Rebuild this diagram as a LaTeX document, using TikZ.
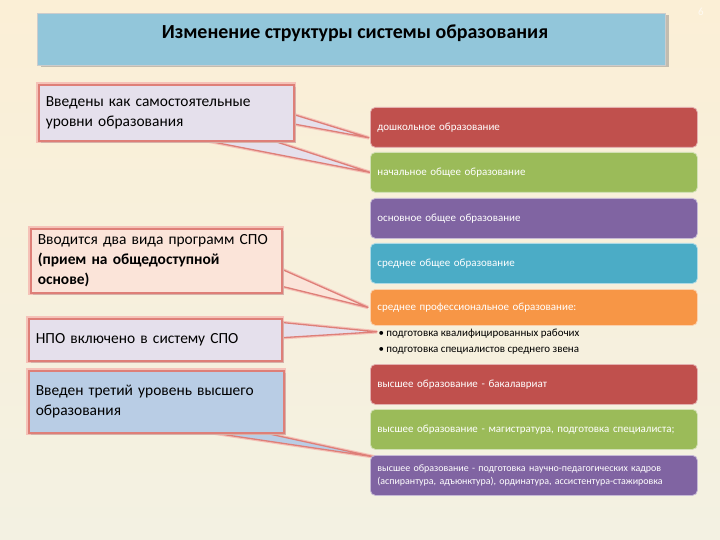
\documentclass[tikz,border=0pt]{standalone}
\usepackage{fontspec}
\setmainfont{Carlito}
\usetikzlibrary{calc,positioning,shadows}

\definecolor{pagetop}{HTML}{FBEFD6}
\definecolor{pagebottom}{HTML}{F3F1E2}
\definecolor{titleblue}{HTML}{92C6DA}
\definecolor{lvred}{HTML}{C0504D}
\definecolor{lvgreen}{HTML}{9BBB59}
\definecolor{lvpurple}{HTML}{8064A2}
\definecolor{lvteal}{HTML}{4BACC6}
\definecolor{lvorange}{HTML}{F79646}
\definecolor{notelilac}{HTML}{E5E0EC}
\definecolor{notepeach}{HTML}{FBE4D9}
\definecolor{noteblue}{HTML}{B9CDE5}
\definecolor{glowred}{HTML}{DE7F78}
\definecolor{glowsoft}{HTML}{F5C2B8}

\pgfdeclarelayer{bg}
\pgfdeclarelayer{back}
\pgfsetlayers{bg,back,main}

\begin{document}
\begin{tikzpicture}[x=1bp, y={(0bp,-1bp)},
  lvlbar/.style={rounded corners=5bp, fill=#1, draw=white!55!#1, line width=0.8bp,
    text=white, anchor=north west, minimum width=327bp, minimum height=40bp,
    text width=313bp, inner xsep=7bp, align=left, font=\fontsize{11}{12.5}\selectfont},
  notebox/.style={fill=#1, draw=glowred, line width=1.6bp, anchor=north west,
    align=left, inner xsep=7bp, font=\fontsize{15.5}{20}\selectfont,
    preaction={draw=glowsoft, line width=5bp},
    drop shadow={opacity=0.25, shadow xshift=2bp, shadow yshift=-2bp}},
  notetail/.style={fill=#1, draw=glowred, line width=1.3bp, line join=round,
    preaction={draw=glowsoft, line width=3.5bp}},
]
\useasboundingbox (0,0) rectangle (720,540);
\begin{pgfonlayer}{bg}
  \fill[top color=pagetop, bottom color=pagebottom] (0,0) rectangle (720,540);
\end{pgfonlayer}

% --- heading ---
\node[anchor=north west, fill=titleblue, draw=white!80!black, line width=1bp,
  minimum width=628bp, minimum height=52bp,
  drop shadow={opacity=0.45, shadow xshift=3bp, shadow yshift=-2bp}] (titlebox) at (37,13) {};
\node[font=\fontsize{20}{22}\selectfont\bfseries] (title) at (355,33) {Изменение структуры системы образования};
\node[text=white!70!pagetop, font=\fontsize{11}{12}\selectfont] (slideno) at (701,12) {6};

% --- levels (right column) ---
\node[lvlbar=lvred] (preschool) at (370,107) {дошкольное образование};
\node[lvlbar=lvgreen] (primary) at (370,152) {начальное общее образование};
\node[lvlbar=lvpurple] (basic) at (370,198) {основное общее образование};
\node[lvlbar=lvteal] (secondary) at (370,243) {среднее общее образование};
\node[lvlbar=lvorange, minimum height=36bp] (spo) at (370,289) {среднее профессиональное образование:};
\node[anchor=north west, align=left, font=\fontsize{11}{16}\selectfont] (spoitems) at (375,326)
  {• подготовка квалифицированных рабочих\\• подготовка специалистов среднего звена};
\node[lvlbar=lvred] (bachelor) at (370,364) {высшее образование - бакалавриат};
\node[lvlbar=lvgreen] (master) at (370,409) {высшее образование - магистратура, подготовка специалиста;};
\node[lvlbar=lvpurple, font=\fontsize{10}{12.5}\selectfont] (phd) at (370,455) {высшее образование - подготовка научно-педагогических кадров\\(аспирантура, адъюнктура), ординатура, ассистентура-стажировка};

% --- notes (left column) ---
\node[notebox=notelilac, text width=241bp, minimum height=56bp] (newlevels) at (38,84)
  {Введены как самостоятельные\\уровни образования};
\node[notebox=notepeach, text width=237bp, minimum height=64bp] (spotypes) at (30,228)
  {Вводится два вида программ СПО\\\textbf{(прием на общедоступной}\\\textbf{основе)}};
\node[notebox=notelilac, text width=239bp, minimum height=42bp] (npo) at (28,318)
  {НПО включено в систему СПО};
\node[notebox=noteblue, text width=241bp, minimum height=62bp] (thirdlevel) at (28,370)
  {Введен третий уровень высшего\\образования};

% --- pointers ---
\begin{pgfonlayer}{back}
  \filldraw[notetail=notelilac] ($(newlevels.north east)+(-6,29)$) -- ($(preschool.south west)+(-1,-10)$)
    -- ($(newlevels.north east)+(-6,39)$) -- cycle;
  \filldraw[notetail=notelilac] ($(newlevels.south west)+(142,-6)$) -- ($(primary.west)+(0,0)$)
    -- ($(newlevels.south west)+(219,-6)$) -- cycle;
  \filldraw[notetail=notepeach] ($(spotypes.north east)+(-6,39)$) -- ($(spo.west)+(-2,0)$)
    -- ($(spotypes.north east)+(-6,57)$) -- cycle;
  \filldraw[notetail=notelilac] ($(npo.north east)+(-6,4)$) -- ($(spo.south west)+(7,6)$)
    -- ($(npo.north east)+(-6,20)$) -- cycle;
  \filldraw[notetail=noteblue] ($(thirdlevel.south west)+(149,-6)$) -- ($(phd.north west)+(5,2)$)
    -- ($(thirdlevel.south west)+(212,-6)$) -- cycle;
\end{pgfonlayer}
\end{tikzpicture}
\end{document}
